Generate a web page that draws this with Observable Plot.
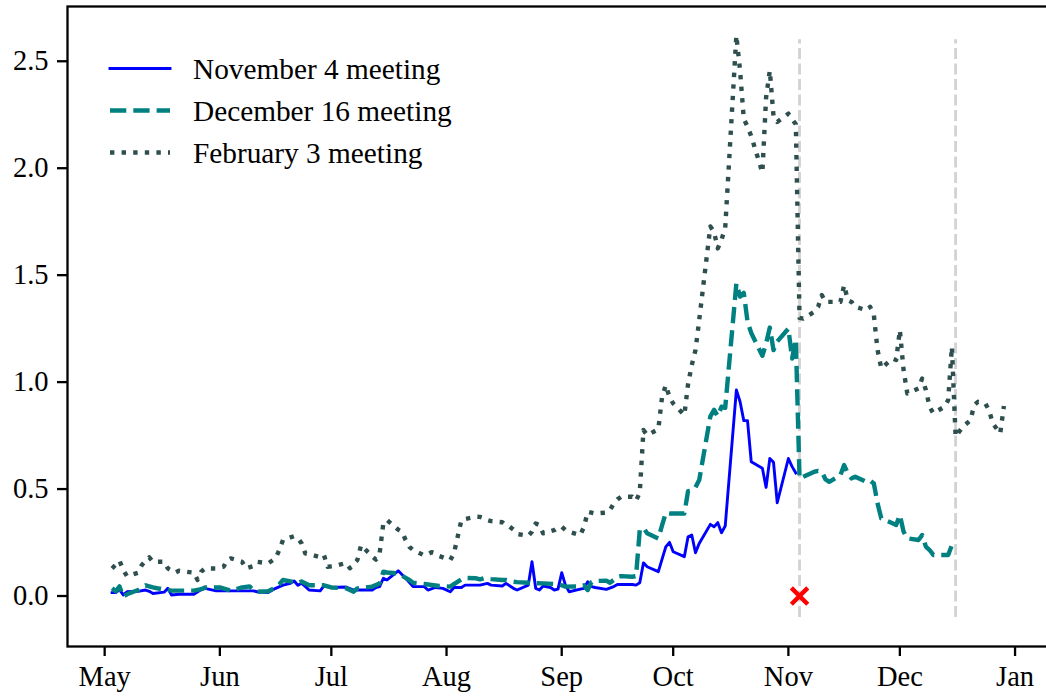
<!DOCTYPE html>
<html><head><meta charset="utf-8">
<script src="https://cdn.jsdelivr.net/npm/d3@7"></script>
<script src="https://cdn.jsdelivr.net/npm/@observablehq/plot@0.6"></script>
<style>
html,body{margin:0;padding:0;background:#fff;overflow:hidden;}
#wrap{position:relative;width:1046px;height:698px;overflow:hidden;}
#legend{position:absolute;left:0;top:0;pointer-events:none;}
</style></head><body><div id="wrap"></div>
<script>
const year = "2021";
const seriesNames = ["November 4 meeting", "December 16 meeting", "February 3 meeting"];

const novDates = ["05-03","05-04","05-05","05-06","05-07","05-10","05-12","05-13","05-14","05-17","05-18","05-19","05-21","05-25","05-27","05-28","05-31","06-03","06-07","06-10","06-11","06-14","06-16","06-18","06-20","06-21","06-22","06-23","06-25","06-28","06-29","07-01","07-05","07-07","07-09","07-12","07-13","07-14","07-15","07-16","07-19","07-21","07-23","07-26","07-27","07-29","07-31","08-02","08-03","08-05","08-06","08-10","08-12","08-13","08-16","08-17","08-19","08-20","08-23","08-24","08-25","08-26","08-27","08-29","08-30","08-31","09-01","09-02","09-03","09-06","09-07","09-08","09-09","09-10","09-13","09-15","09-16","09-20","09-21","09-22","09-23","09-24","09-27","09-29","09-30","10-01","10-04","10-05","10-06","10-07","10-08","10-11","10-12","10-13","10-14","10-15","10-18","10-19","10-20","10-21","10-22","10-25","10-26","10-27","10-28","10-29","11-01","11-02","11-03"];
const novValues = [0.016,0.016,0.030,0.005,0.020,0.022,0.028,0.022,0.012,0.018,0.036,0.005,0.008,0.008,0.030,0.036,0.024,0.024,0.024,0.024,0.020,0.016,0.036,0.051,0.059,0.070,0.050,0.060,0.028,0.024,0.047,0.040,0.042,0.028,0.028,0.028,0.040,0.044,0.083,0.075,0.118,0.083,0.044,0.044,0.028,0.040,0.036,0.020,0.040,0.040,0.051,0.051,0.059,0.051,0.047,0.059,0.036,0.028,0.051,0.160,0.036,0.028,0.047,0.040,0.028,0.032,0.109,0.051,0.020,0.032,0.036,0.067,0.044,0.040,0.031,0.044,0.054,0.054,0.051,0.062,0.155,0.137,0.114,0.230,0.251,0.207,0.184,0.277,0.285,0.202,0.246,0.335,0.324,0.343,0.296,0.327,0.963,0.908,0.820,0.820,0.628,0.597,0.508,0.643,0.625,0.436,0.643,0.605,0.575];

const decDates = ["05-03","05-04","05-05","05-06","05-07","05-10","05-11","05-12","05-14","05-17","05-19","05-21","05-25","05-27","05-28","06-01","06-03","06-04","06-07","06-09","06-10","06-11","06-14","06-16","06-17","06-18","06-21","06-22","06-23","06-25","06-28","06-29","07-01","07-05","07-07","07-08","07-12","07-14","07-15","07-16","07-19","07-20","07-21","07-22","07-23","07-26","07-30","08-02","08-03","08-05","08-06","08-09","08-10","08-11","08-13","08-16","08-17","08-19","08-20","08-23","08-25","08-27","08-31","09-02","09-06","09-07","09-08","09-09","09-10","09-13","09-14","09-15","09-16","09-17","09-20","09-21","09-22","09-23","09-24","09-27","09-28","09-29","09-30","10-01","10-04","10-05","10-06","10-07","10-08","10-11","10-12","10-13","10-14","10-15","10-18","10-19","10-20","10-21","10-22","10-25","10-26","10-27","10-28","10-29","11-01","11-02","11-03","11-04","11-05","11-08","11-09","11-10","11-11","11-12","11-15","11-16","11-17","11-18","11-19","11-22","11-23","11-24","11-25","11-26","11-29","11-30","12-01","12-02","12-03","12-06","12-07","12-08","12-09","12-10","12-13","12-14","12-15","12-16"];
const decValues = [0.036,0.022,0.045,-0.003,0.008,0.028,0.040,0.050,0.040,0.030,0.025,0.025,0.025,0.032,0.040,0.040,0.030,0.025,0.040,0.045,0.028,0.020,0.022,0.040,0.055,0.075,0.065,0.060,0.068,0.050,0.050,0.050,0.040,0.036,0.020,0.036,0.044,0.059,0.114,0.110,0.106,0.095,0.085,0.075,0.062,0.056,0.047,0.044,0.056,0.078,0.085,0.083,0.078,0.083,0.079,0.075,0.075,0.067,0.065,0.062,0.060,0.059,0.056,0.044,0.045,0.050,0.028,0.065,0.070,0.072,0.062,0.075,0.090,0.093,0.090,0.093,0.308,0.319,0.293,0.269,0.330,0.389,0.386,0.386,0.386,0.490,0.492,0.508,0.542,0.840,0.870,0.841,0.885,0.880,1.461,1.400,1.417,1.283,1.230,1.123,1.181,1.255,1.150,1.190,1.250,1.110,1.200,0.550,0.558,0.581,0.585,0.581,0.545,0.534,0.565,0.612,0.573,0.550,0.558,0.534,0.540,0.526,0.433,0.363,0.340,0.332,0.379,0.301,0.270,0.262,0.285,0.231,0.215,0.192,0.192,0.192,0.238,0.250];

const febDates = ["05-03","05-05","05-06","05-07","05-10","05-11","05-13","05-14","05-17","05-18","05-20","05-21","05-25","05-26","05-27","05-28","05-31","06-02","06-03","06-04","06-07","06-08","06-10","06-11","06-14","06-16","06-17","06-18","06-21","06-22","06-23","06-24","06-25","06-28","06-29","06-30","07-02","07-05","07-06","07-07","07-08","07-09","07-12","07-13","07-14","07-15","07-16","07-19","07-20","07-21","07-22","07-23","07-26","07-27","07-28","07-29","07-30","08-02","08-03","08-04","08-05","08-06","08-09","08-10","08-11","08-12","08-13","08-16","08-17","08-18","08-19","08-20","08-23","08-24","08-25","08-26","08-27","08-30","08-31","09-01","09-02","09-03","09-06","09-07","09-08","09-09","09-10","09-13","09-14","09-15","09-16","09-17","09-20","09-21","09-22","09-23","09-24","09-27","09-28","09-29","09-30","10-01","10-04","10-05","10-06","10-07","10-08","10-11","10-12","10-13","10-14","10-15","10-18","10-19","10-20","10-21","10-22","10-25","10-26","10-27","10-28","10-29","11-01","11-02","11-03","11-04","11-05","11-08","11-09","11-10","11-11","11-12","11-15","11-16","11-17","11-18","11-19","11-22","11-23","11-24","11-25","11-26","11-29","11-30","12-01","12-02","12-03","12-06","12-07","12-08","12-09","12-10","12-13","12-14","12-15","12-16","12-17","12-18","12-20","12-21","12-22","12-24","12-25","12-26","12-28","12-29"];
const febValues = [0.129,0.165,0.121,0.093,0.109,0.145,0.181,0.160,0.160,0.129,0.109,0.118,0.109,0.075,0.114,0.129,0.129,0.137,0.168,0.176,0.160,0.129,0.140,0.160,0.153,0.176,0.215,0.262,0.280,0.270,0.246,0.199,0.196,0.181,0.192,0.137,0.140,0.155,0.130,0.150,0.168,0.238,0.185,0.170,0.200,0.340,0.355,0.310,0.300,0.262,0.230,0.215,0.190,0.195,0.205,0.200,0.187,0.168,0.199,0.277,0.355,0.360,0.371,0.370,0.365,0.355,0.350,0.345,0.330,0.324,0.310,0.290,0.281,0.301,0.339,0.332,0.293,0.308,0.320,0.324,0.308,0.300,0.285,0.324,0.394,0.390,0.386,0.390,0.402,0.433,0.452,0.464,0.464,0.445,0.483,0.776,0.752,0.780,0.930,0.986,0.931,0.900,0.846,0.990,1.080,1.150,1.290,1.728,1.701,1.625,1.666,1.720,2.620,2.456,2.230,2.195,2.150,1.980,2.330,2.456,2.243,2.216,2.255,2.230,2.205,1.300,1.297,1.329,1.352,1.407,1.375,1.375,1.375,1.453,1.383,1.375,1.352,1.336,1.352,1.313,1.150,1.064,1.110,1.103,1.243,1.056,0.947,0.970,1.017,0.963,0.885,0.854,0.885,0.916,1.165,0.745,0.769,0.792,0.822,0.893,0.908,0.900,0.869,0.807,0.760,0.888];

const meetingDates = ["2021-11-04", "2021-12-16"];
const meetingSpan = [-0.1, 2.6];
const markerDates = ["2021-11-04"];
const markerValues = [0];
const xTicks = ["2021-05-01","2021-06-01","2021-07-01","2021-08-01","2021-09-01","2021-10-01","2021-11-01","2021-12-01","2022-01-01"];
const yTicks = [0, 0.5, 1.0, 1.5, 2.0, 2.5];
const xDomain = ["2021-04-21", "2022-01-10"];
const yDomain = [-0.236, 2.756];

const parse = d3.utcParse("%Y-%m-%d");
const rows = (dates, values, name) => dates.map((d, i) => ({date: parse(year + "-" + d), value: values[i], series: name}));
const nov = rows(novDates, novValues, seriesNames[0]);
const dec = rows(decDates, decValues, seriesNames[1]);
const feb = rows(febDates, febValues, seriesNames[2]);
const markers = markerDates.map((d, i) => ({date: parse(d), value: markerValues[i]}));

const colors = ["#0000ff", "#008080", "#2f4f4f"];
const widths = [2.9, 4.4, 4.4];
const dashes = [null, "16.3,7", "4.4,7.2"];
const FONT = "'Liberation Serif', 'Times New Roman', serif";

const chart = Plot.plot({
  width: 1046, height: 698,
  marginLeft: 67, marginRight: -2, marginTop: 6, marginBottom: 52,
  style: {fontFamily: FONT, fontSize: "28.5px", background: "white", overflow: "hidden", color: "black"},
  x: {type: "utc", domain: xDomain.map(parse)},
  y: {domain: yDomain},
  marks: [
    Plot.ruleX(meetingDates.map(parse), {x: d => d, y1: meetingSpan[0], y2: meetingSpan[1], stroke: "#d3d3d3", strokeWidth: 2.9, strokeDasharray: "10.8,4.7"}),
    Plot.line(nov, {x: "date", y: "value", stroke: colors[0], strokeWidth: widths[0], strokeLinejoin: "round", strokeLinecap: "square"}),
    Plot.line(dec, {x: "date", y: "value", stroke: colors[1], strokeWidth: widths[1], strokeDasharray: dashes[1], strokeLinecap: "butt", strokeLinejoin: "round"}),
    Plot.line(feb, {x: "date", y: "value", stroke: colors[2], strokeWidth: widths[2], strokeDasharray: dashes[2], strokeLinecap: "butt", strokeLinejoin: "round"}),
    Plot.dot(markers, {x: "date", y: "value", symbol: "times", r: 7.5, stroke: "red", strokeWidth: 4.4}),
    Plot.frame({stroke: "black", strokeWidth: 2.3}),
    Plot.axisX({ticks: xTicks.map(parse), tickFormat: d3.utcFormat("%b"), tickSize: 10, tickPadding: 9, strokeWidth: 2.3, label: null, fontSize: 28.5}),
    Plot.axisY({ticks: yTicks, tickFormat: d3.format(".1f"), tickSize: 10, tickPadding: 9, strokeWidth: 2.3, label: null, fontSize: 28.5})
  ]
});
const wrap = document.getElementById("wrap");
wrap.appendChild(chart);

// legend inside the axes (upper left)
const lg = d3.select(wrap).append("svg").attr("id", "legend").attr("width", 1046).attr("height", 698);
const legendX = [110, 170, 193];
const legendY = [68.5, 110.5, 152.5];
seriesNames.forEach((name, i) => {
  const l = lg.append("line").attr("x1", legendX[0]).attr("x2", legendX[1]).attr("y1", legendY[i]).attr("y2", legendY[i])
    .attr("stroke", colors[i]).attr("stroke-width", widths[i]).attr("stroke-linecap", i === 0 ? "square" : "butt");
  if (dashes[i]) l.attr("stroke-dasharray", dashes[i]);
  lg.append("text").attr("x", legendX[2]).attr("y", legendY[i]).attr("dy", "0.35em")
    .style("font-family", FONT).style("font-size", "29.3px").attr("fill", "black").text(name);
});
</script></body></html>
